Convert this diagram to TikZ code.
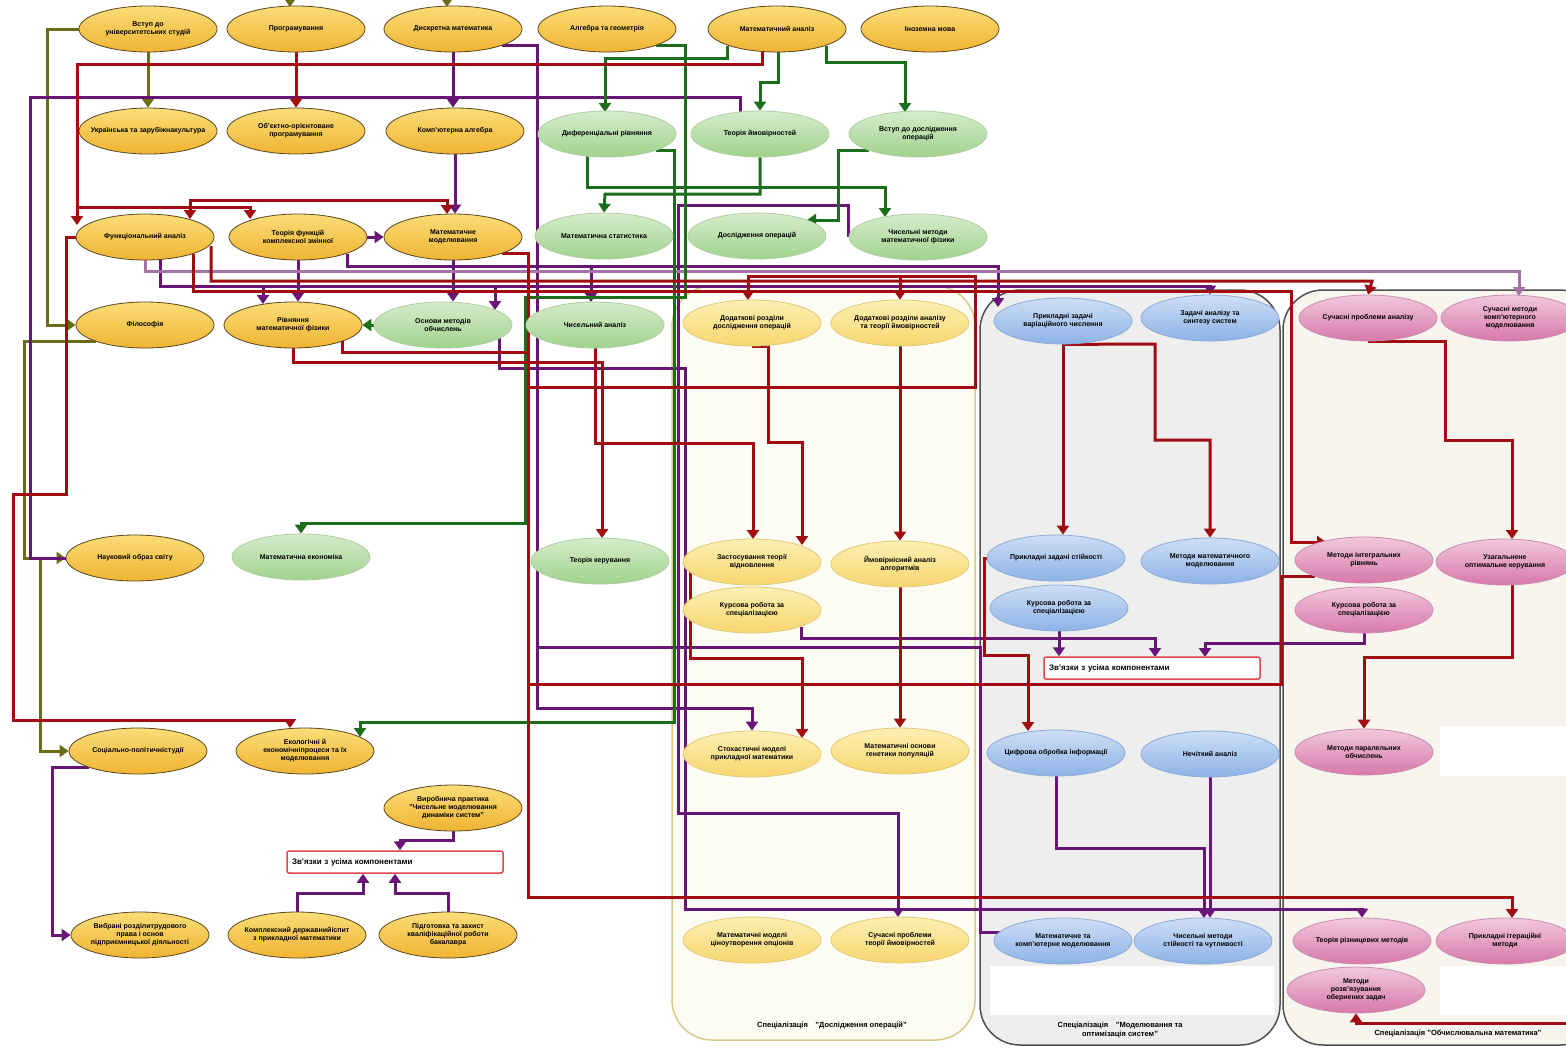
\documentclass[tikz,border=0pt]{standalone}
\usepackage{fontspec}
\setmainfont{Liberation Sans}
\usetikzlibrary{shapes.geometric,arrows.meta}
\definecolor{basetop}{RGB}{251,221,120}
\definecolor{basebot}{RGB}{240,180,50}
\definecolor{baseedge}{RGB}{90,70,30}
\definecolor{opttop}{RGB}{253,240,180}
\definecolor{optbot}{RGB}{247,214,110}
\definecolor{optedge}{RGB}{225,200,120}
\definecolor{greentop}{RGB}{214,236,204}
\definecolor{greenbot}{RGB}{160,210,140}
\definecolor{greenedge}{RGB}{175,205,160}
\definecolor{bluetop}{RGB}{206,222,246}
\definecolor{bluebot}{RGB}{140,178,230}
\definecolor{blueedge}{RGB}{140,170,215}
\definecolor{pinktop}{RGB}{242,200,222}
\definecolor{pinkbot}{RGB}{215,120,170}
\definecolor{pinkedge}{RGB}{200,140,175}
\definecolor{linkred}{RGB}{160,12,16}
\definecolor{linkpurple}{RGB}{104,22,118}
\definecolor{linkgreen}{RGB}{28,110,28}
\definecolor{linkolive}{RGB}{108,108,22}
\definecolor{linkmauve}{RGB}{165,115,165}
\definecolor{orfill}{RGB}{253,252,242}
\definecolor{orline}{RGB}{215,200,140}
\definecolor{sysfill}{RGB}{238,238,238}
\definecolor{numfill}{RGB}{247,245,238}
\definecolor{panelline}{RGB}{80,80,80}
\definecolor{boxline}{RGB}{225,70,80}
\pgfdeclarelayer{panels}
\pgfdeclarelayer{links}
\pgfsetlayers{panels,links,main}

\begin{document}
\begin{tikzpicture}[x=1pt,y=-1pt]

%
% Styles
%
\tikzstyle{course}      = [ellipse,minimum width=138pt,minimum height=46pt,inner xsep=-16pt,inner ysep=-3pt,align=center,font=\fontsize{7}{8}\selectfont\bfseries,line width=0.8pt]
\tikzstyle{gencourse}   = [course,draw=baseedge,top color=basetop,bottom color=basebot]
\tikzstyle{optcourse}   = [course,draw=optedge,top color=opttop,bottom color=optbot]
\tikzstyle{natcourse}   = [course,draw=greenedge,top color=greentop,bottom color=greenbot]
\tikzstyle{syscourse}   = [course,draw=blueedge,top color=bluetop,bottom color=bluebot]
\tikzstyle{numcourse}   = [course,draw=pinkedge,top color=pinktop,bottom color=pinkbot]
\tikzstyle{linksbox}    = [rectangle,draw=boxline,line width=1.5pt,rounded corners=2pt,fill=white,minimum width=216pt,minimum height=22pt,text width=206pt,align=left,font=\fontsize{8}{9}\selectfont\bfseries]
\tikzstyle{paneltext}   = [align=center,font=\fontsize{7.5}{9}\selectfont\bfseries]
\tikzstyle{redlink}     = [line width=3pt,draw=linkred]
\tikzstyle{redarrow}    = [redlink,->,>={Triangle[width=12pt,length=9pt]}]
\tikzstyle{purplelink}  = [line width=3pt,draw=linkpurple]
\tikzstyle{purplearrow} = [purplelink,->,>={Triangle[width=12pt,length=9pt]}]
\tikzstyle{greenarrow}  = [line width=3pt,draw=linkgreen,->,>={Triangle[width=12pt,length=9pt]}]
\tikzstyle{olivearrow}  = [line width=3pt,draw=linkolive,->,>={Triangle[width=12pt,length=9pt]}]
\tikzstyle{mauvearrow}  = [line width=3pt,draw=linkmauve,->,>={Triangle[width=12pt,length=9pt]}]

\useasboundingbox (0,0) rectangle (1566,1047);

% first and second year
\node[gencourse] (vstup) at (148,29)  {Вступ до\\університетських студій};
\node[gencourse] (prog)  at (296,29)  {Програмування};
\node[gencourse] (dyskr) at (453,29)  {Дискретна математика};
\node[gencourse] (alg)   at (607,29)  {Алгебра та геометрія};
\node[gencourse] (matan) at (777,29)  {Математичний аналіз};
\node[gencourse] (inoz)  at (930,29)  {Іноземна мова};

\node[gencourse] (ukr)   at (148,131) {Українська та зарубіжнакультура};
\node[gencourse] (oop)   at (296,131) {Об'єктно-орієнтоване\\програмування};
\node[gencourse] (komp)  at (455,131) {Комп'ютерна алгебра};
\node[natcourse] (dyfr)  at (607,134) {Диференціальні рівняння};
\node[natcourse] (tim)   at (760,134) {Теорія ймовірностей};
\node[natcourse] (vdo)   at (918,134) {Вступ до дослідження\\операцій};

\node[gencourse] (funk)  at (145,237) {Функціональний аналіз};
\node[gencourse] (tfkz)  at (298,237) {Теорія функцій\\комплексної змінної};
\node[gencourse] (mmod)  at (453,237) {Математичне\\моделювання};
\node[natcourse] (mstat) at (604,236) {Математична статистика};
\node[natcourse] (doop)  at (757,236) {Дослідження операцій};
\node[natcourse] (chmmf) at (918,237) {Чисельні методи\\математичної фізики};

\node[gencourse] (fil)   at (145,325) {Філософія};
\node[gencourse] (rmf)   at (293,325) {Рівняння\\математичної фізики};
\node[natcourse] (omo)   at (443,325) {Основи методів\\обчислень};
\node[natcourse] (chan)  at (595,325) {Чисельний аналіз};

% specialisations
\node[optcourse] (ddo)   at (752,323) {Додаткові розділи\\дослідження операцій};
\node[optcourse] (dra)   at (900,323) {Додаткові розділи аналізу\\та теорії ймовірностей};
\node[syscourse] (pzvch) at (1063,321) {Прикладні задачі\\варіаційного числення};
\node[syscourse] (zass)  at (1210,318) {Задачі аналізу та\\синтезу систем};
\node[numcourse] (spa)   at (1368,318) {Сучасні проблеми аналізу};
\node[numcourse] (smkm)  at (1510,318) {Сучасні методи\\комп'ютерного\\моделювання};

\node[gencourse] (nos)   at (135,558) {Науковий образ світу};
\node[natcourse] (mek)   at (301,557) {Математична економіка};
\node[natcourse] (tker)  at (600,561) {Теорія керування};
\node[optcourse] (ztv)   at (752,562) {Застосування теорії\\відновлення};
\node[optcourse] (yaaa)  at (900,564) {Ймовірнісний аналіз\\алгоритмів};
\node[syscourse] (pzs)   at (1056,558) {Прикладні задачі стійкості};
\node[syscourse] (mmm)   at (1210,561) {Методи математичного\\моделювання};
\node[numcourse] (mir)   at (1364,560) {Методи інтегральних\\рівнянь};
\node[numcourse] (uok)   at (1505,562) {Узагальнене\\оптимальне керування};

\node[optcourse] (kr1)   at (752,610) {Курсова робота за\\спеціалізацією};
\node[syscourse] (kr2)   at (1059,608) {Курсова робота за\\спеціалізацією};
\node[numcourse] (kr3)   at (1364,610) {Курсова робота за\\спеціалізацією};
\node[linksbox]  (zv1)   at (1152,668) {Зв'язки з усіма компонентами};

\node[gencourse] (spst)  at (138,751) {Соціально-політичністудії};
\node[gencourse] (eko)   at (305,751) {Екологічні й\\економічніпроцеси та їх\\моделювання};
\node[optcourse] (smpm)  at (752,754) {Стохастичні моделі\\прикладної математики};
\node[optcourse] (mogp)  at (900,751) {Математичні основи\\генетики популяцій};
\node[syscourse] (cobr)  at (1056,753) {Цифрова обробка інформації};
\node[syscourse] (nan)   at (1210,754) {Нечіткий аналіз};
\node[numcourse] (mpo)   at (1364,752) {Методи паралельних\\обчислень};

\node[gencourse] (vp)    at (453,808) {Виробнича практика\\"Чисельне моделювання\\динаміки систем"};
\node[linksbox]  (zv2)   at (395,862) {Зв'язки з усіма компонентами};

\node[gencourse] (vybr)  at (140,935) {Вибрані розділитрудового\\права і основ\\підприємницької діяльності};
\node[gencourse] (kdi)   at (297,935) {Комплексний державнийіспит\\з прикладної математики};
\node[gencourse] (pzkr)  at (448,935) {Підготовка та захист\\кваліфікаційної роботи\\бакалавра};
\node[optcourse] (mmco)  at (752,940) {Математичні моделі\\ціноутворення опціонів};
\node[optcourse] (sptv)  at (900,940) {Сучасні проблеми\\теорії ймовірностей};
\node[syscourse] (mkm)   at (1063,941) {Математичне та\\комп'ютерне моделювання};
\node[syscourse] (chmst) at (1203,941) {Чисельні методи\\стійкості та чутливості};
\node[numcourse] (trm)   at (1362,941) {Теорія різницевих методів};
\node[numcourse] (pim)   at (1505,941) {Прикладні ітераційні\\методи};
\node[numcourse] (mroz)  at (1356,990) {Методи\\розв'язування\\обернених задач};

\node[paneltext] (orlabel)  at (832,1025) {Спеціалізація\quad"Дослідження операцій"};
\node[paneltext] (syslabel) at (1120,1030) {Спеціалізація\quad"Моделювання та\\оптимізація систем"};
\node[paneltext] (numlabel) at (1458,1033) {Спеціалізація "Обчислювальна математика"};

\coordinate (inprog)     at (290,-12);
\coordinate (indyskr)    at (447,-12);
\coordinate (olivesplit) at (40,558);
\coordinate (redsplit)   at (300,200);
\coordinate (redright)   at (1580,1023);

% panels
\begin{pgfonlayer}{panels}
\draw[fill=orfill,draw=orline,line width=1.5pt,rounded corners=40pt] (672,286) rectangle (975,1040);
\draw[fill=sysfill,draw=panelline,line width=1.5pt,rounded corners=40pt] (980,290) rectangle (1280,1045);
\draw[fill=numfill,draw=panelline,line width=1.5pt,rounded corners=40pt] (1283,290) rectangle (1600,1045);
\fill[white] (990,966) rectangle (1274,1015);
\fill[white] (1440,726) rectangle (1566,776);
\fill[white] (1440,966) rectangle (1566,1015);
\end{pgfonlayer}

% links
\begin{pgfonlayer}{links}
\draw[olivearrow] (vstup) -- (ukr);
\draw[olivearrow] (vstup.west) -- (47,29) -- (47,325) -- (fil.west);
\draw[olivearrow] (fil.south west) -| (24,558) -- (nos.west);
\draw[olivearrow] (olivesplit) |- (spst.west);
\draw[olivearrow] (inprog) -- (290,7);
\draw[olivearrow] (indyskr) -- (447,7);

\draw[purplelink] (740,112) |- (30,97) -- (30,558) -- (nos.west);
\draw[purplearrow] (dyskr.south) -- (dyskr.south |- komp.north);
\draw[purplearrow] (komp.south) -- (komp.south |- mmod.north);
\draw[purplearrow] (tfkz) -- (mmod);
\draw[purplearrow] (tfkz.south) -- (tfkz.south |- rmf.north);
\draw[purplearrow] (mmod.south) -- (mmod.south |- omo.north);
\draw[purplearrow] (tfkz.south east) |- (998,266) -- (998,307);
\draw[purplearrow] (591,266) -- (591,302);
\draw[purplearrow] (160,259) |- (1210,286) -- (zass.north);
\draw[purplearrow] (263,286) -- (263,304);
\draw[purplearrow] (495,286) -- (495,310);
\draw[purplearrow] (499,338) |- (685,368) |- (1362,909) -- (trm.north);
\draw[purplearrow] (chmmf.west) |- (678,205) |- (898,813) -- (898,917);
\draw[purplearrow] (dyskr.south east) -| (537,708) -| (smpm.north);
\draw[purplearrow] (537,647) -| (980,932) -| (1025,921);
\draw[purplearrow] (kr1.south east) |- (1155,638) -- (1155,657);
\draw[purplearrow] (kr2.south) -- (kr2.south |- zv1.north);
\draw[purplearrow] (kr3.south) |- (1205,643) -- (1205,657);
\draw[purplearrow] (cobr.south) |- (1204,848) -- (1204,918);
\draw[purplearrow] (nan.south) -- (nan.south |- chmst.north);
\draw[purplearrow] (spst.south west) -| (52,935) -- (vybr.west);
\draw[purplearrow] (vp.south) |- (400,840) -- (zv2.north -| 400,0);
\draw[purplearrow] (kdi.north) |- (363,893) -- (zv2.south -| 363,0);
\draw[purplearrow] (pzkr.north) |- (395,893) -- (zv2.south -| 395,0);

\draw[mauvearrow] (funk.south) |- (1519,271) -- (1519,296);

\draw[greenarrow] (matan.south west) |- (605,58) -- (605,112);
\draw[greenarrow] (778,52) |- (760,82) -- (tim.north);
\draw[greenarrow] (matan.south east) |- (905,62) -- (905,112);
\draw[greenarrow] (587,156) |- (885,187) -- (885,217);
\draw[greenarrow] (tim.south) |- (605,194) -- (mstat.north);
\draw[greenarrow] (vdo.south west) -| (838,220) -- (807,220);
\draw[greenarrow] (alg.south east) -| (685,297) -| (525,523) -| (mek.north);
\draw[greenarrow] (dyfr.south east) -| (674,722) -| (360,737);
\draw[greenarrow] (omo) -- (rmf);

\draw[redarrow] (prog) -- (oop);
\draw[redarrow] (762,51) |- (77,64) -- (77,225);
\draw[redarrow] (77,207) -| (250,219);
\draw[redarrow] (redsplit) -| (190,219);
\draw[redarrow] (redsplit) -| (447,214);
\draw[redarrow] (funk.west) -- (66,237) -- (66,494) -- (13,494) -- (13,720) -| (290,728);
\draw[redarrow] (193,254) |- (1291,291) -- (1291,542) -- (1326,542);
\draw[redarrow] (211,246) |- (1372,281) -- (spa.north);
\draw[redarrow] (mmod.south east) -| (528,897) -- (1512,897) -- (1512,918);
\draw[redarrow] (528,387) -- (975,387) -- (975,276) -| (748,300);
\draw[redarrow] (900,276) -- (dra.north);
\draw[redarrow] (rmf.south) |- (602,362) -- (602,538);
\draw[redlink]  (342,341) |- (528,352);
\draw[redarrow] (chan.south) |- (753,443) -- (753,539);
\draw[redarrow] (ddo.south) -| (768,442) -| (802,545);
\draw[redarrow] (dra) -- (yaaa);
\draw[redarrow] (690,572) |- (802,658) -- (802,738);
\draw[redarrow] (yaaa) -- (mogp);
\draw[redarrow] (pzvch.south) -- (pzvch.south |- pzs.north);
\draw[redarrow] (pzvch.south) -- (1155,344) -- (1155,440) -| (mmm.north);
\draw[redarrow] (pzs.west) -- (984,558) -- (984,655) -| (1028,731);
\draw[redlink]  (mir.south west) -| (1281,684) -- (528,684);
\draw[redarrow] (spa.south) -| (1445,440) -| (1512,539);
\draw[redarrow] (1512,585) |- (1364,657) -- (mpo.north);
\draw[redarrow] (redright) -| (mroz.south);
\end{pgfonlayer}

\end{tikzpicture}
\end{document}
